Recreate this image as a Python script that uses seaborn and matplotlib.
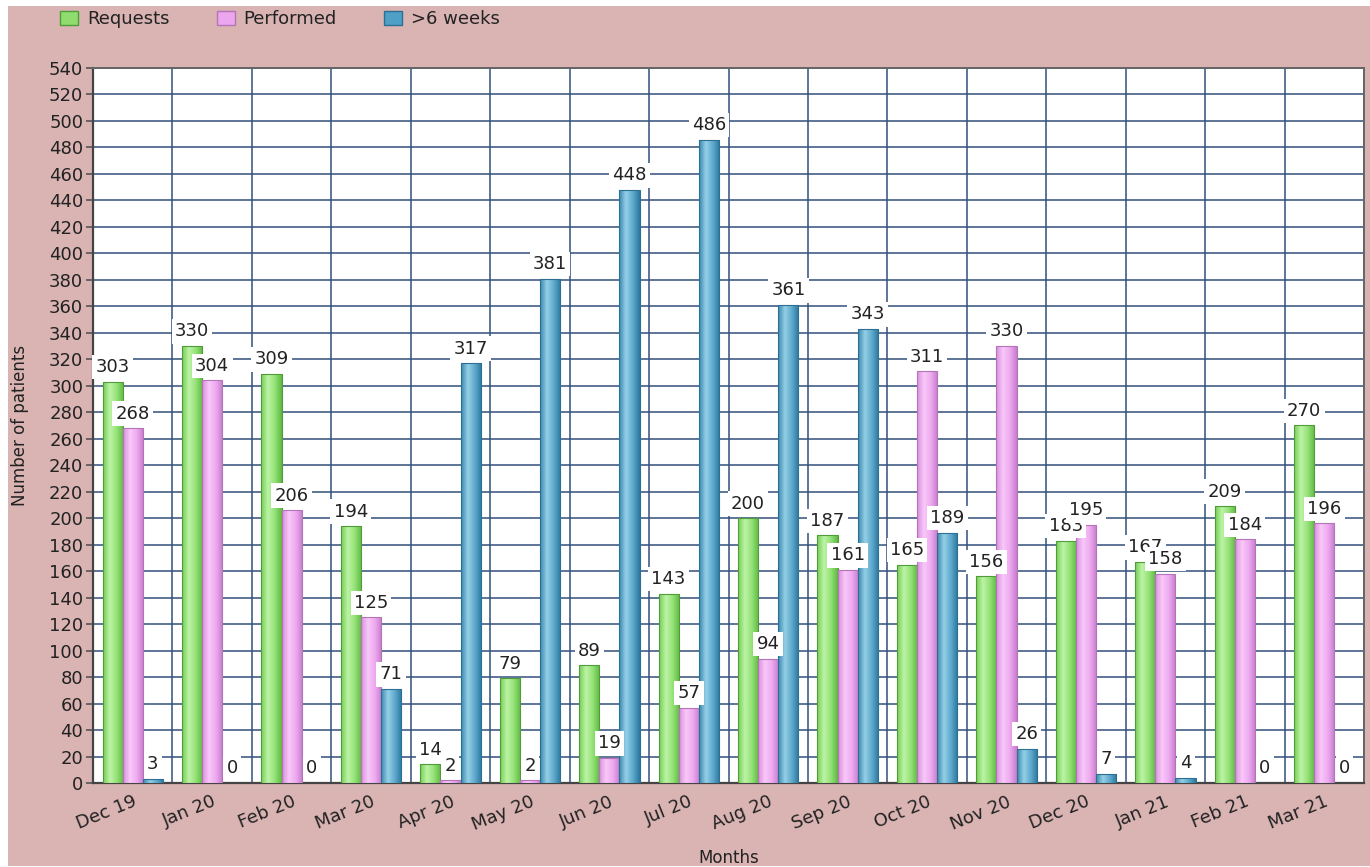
import numpy as np
import pandas as pd
import matplotlib
matplotlib.use("Agg")
import matplotlib.pyplot as plt
import seaborn as sns
from matplotlib.patches import Rectangle, Patch
from matplotlib.colors import LinearSegmentedColormap

# ---- data ----
months = ["Dec 19", "Jan 20", "Feb 20", "Mar 20", "Apr 20", "May 20", "Jun 20", "Jul 20",
          "Aug 20", "Sep 20", "Oct 20", "Nov 20", "Dec 20", "Jan 21", "Feb 21", "Mar 21"]
requests = [303, 330, 309, 194, 14, 79, 89, 143, 200, 187, 165, 156, 183, 167, 209, 270]
performed = [268, 304, 206, 125, 2, 2, 19, 57, 94, 161, 311, 330, 195, 158, 184, 196]
over_6_weeks = [3, 0, 0, 71, 317, 381, 448, 486, 361, 343, 189, 26, 7, 4, 0, 0]
series_names = ["Requests", "Performed", ">6 weeks"]
y_ticks = list(range(0, 541, 20))

# ---- styling ----
base_colors = ["#8fdd6e", "#eba6ee", "#4f9fc6"]
edge_colors = ["#4f9c38", "#b574ba", "#2d6f93"]
grad_colors = [
    ["#74cf55", "#bdf3a6", "#94e276", "#5fb843"],
    ["#d98fde", "#f8c8f8", "#eeaaf0", "#c67ccc"],
    ["#3a89b0", "#95cfe6", "#5eaacd", "#2c779d"],
]
bg_pink = "#d9b4b3"
grid_col = "#34507c"
text_col = "#222222"

sns.set_theme(style="white")
plt.rcParams["font.family"] = ["DejaVu Sans"]

df = pd.DataFrame({
    "Month": months * 3,
    "Patients": requests + performed + over_6_weeks,
    "Series": [series_names[0]] * 16 + [series_names[1]] * 16 + [series_names[2]] * 16,
})

W, H = 1370, 867
fig = plt.figure(figsize=(W / 100, H / 100), dpi=100)
fig.patch.set_facecolor("white")
fig.add_artist(Rectangle((8 / W, 1 / H), (W - 8) / W, (H - 7) / H,
                         transform=fig.transFigure, facecolor=bg_pink,
                         edgecolor="none", zorder=-10))

ax = fig.add_axes([93 / W, 1 - 783 / H, (1364 - 93) / W, (783 - 68) / H])
ax.set_facecolor("white")

sns.barplot(data=df, x="Month", y="Patients", hue="Series", order=months,
            hue_order=series_names, palette=base_colors, width=0.76,
            saturation=1, errorbar=None, legend=False, ax=ax, zorder=3)

grad = np.linspace(0, 1, 64).reshape(1, -1)
for i, cont in enumerate(ax.containers):
    cmap = LinearSegmentedColormap.from_list(f"g{i}", grad_colors[i])
    for p in cont.patches:
        x0, w, h = p.get_x(), p.get_width(), p.get_height()
        p.set_edgecolor(edge_colors[i])
        p.set_linewidth(0.8)
        if h > 0:
            im = ax.imshow(grad, extent=[x0, x0 + w, 0, h], aspect="auto",
                           cmap=cmap, interpolation="bilinear", zorder=2.9)
            im.set_clip_path(p)
            p.set_facecolor("none")
            p.set_zorder(3)

for i, cont in enumerate(ax.containers):
    vals = [requests, performed, over_6_weeks][i]
    ax.bar_label(cont, labels=[str(v) for v in vals], padding=4, fontsize=13,
                 color=text_col, zorder=6 + i,
                 bbox=dict(boxstyle="square,pad=0.18", fc="white", ec="none"))

ax.set_xlim(-0.5, len(months) - 0.5)
ax.set_ylim(0, 540)
ax.set_aspect("auto")
ax.set_yticks(y_ticks)
ax.set_yticklabels([str(t) for t in y_ticks], fontsize=13, color=text_col)
ax.set_xticks(range(len(months)))
ax.set_xticklabels(months, rotation=22, ha="right", rotation_mode="anchor",
                   fontsize=13, color=text_col)
ax.set_xticks(np.arange(-0.5, len(months)), minor=True)

ax.tick_params(axis="x", which="major", length=0, pad=7)
ax.tick_params(axis="x", which="minor", length=5, width=1.2, color="#555555", direction="out")
ax.tick_params(axis="y", which="major", length=5, width=1.2, color="#555555",
               direction="out", pad=2, left=True)

ax.set_axisbelow(True)
ax.yaxis.grid(True, which="major", color=grid_col, lw=1.3, alpha=0.85)
ax.xaxis.grid(True, which="minor", color=grid_col, lw=1.3, alpha=0.85)
ax.xaxis.grid(False, which="major")

for side in ["left", "bottom"]:
    ax.spines[side].set_color("#444444")
    ax.spines[side].set_linewidth(1.6)
for side in ["top", "right"]:
    ax.spines[side].set_color("#666666")
    ax.spines[side].set_linewidth(1.4)
    ax.spines[side].set_visible(True)

ax.set_ylabel("Number of patients", fontsize=12, color=text_col)
ax.yaxis.set_label_coords(-0.050, 0.5)
ax.set_xlabel("Months", fontsize=12, color=text_col)
ax.xaxis.set_label_coords(0.5, -0.092)

handles = [Patch(facecolor=base_colors[i], edgecolor=edge_colors[i], label=series_names[i])
           for i in range(3)]
fig.legend(handles=handles, loc="center left", bbox_to_anchor=(60 / W, 1 - 19 / H),
           ncol=3, frameon=False, fontsize=13, handlelength=1.0, handleheight=0.8,
           handletextpad=0.5, columnspacing=2.6, borderaxespad=0, borderpad=0,
           labelcolor=text_col)

fig.savefig("out.png", dpi=100, facecolor=fig.get_facecolor())
